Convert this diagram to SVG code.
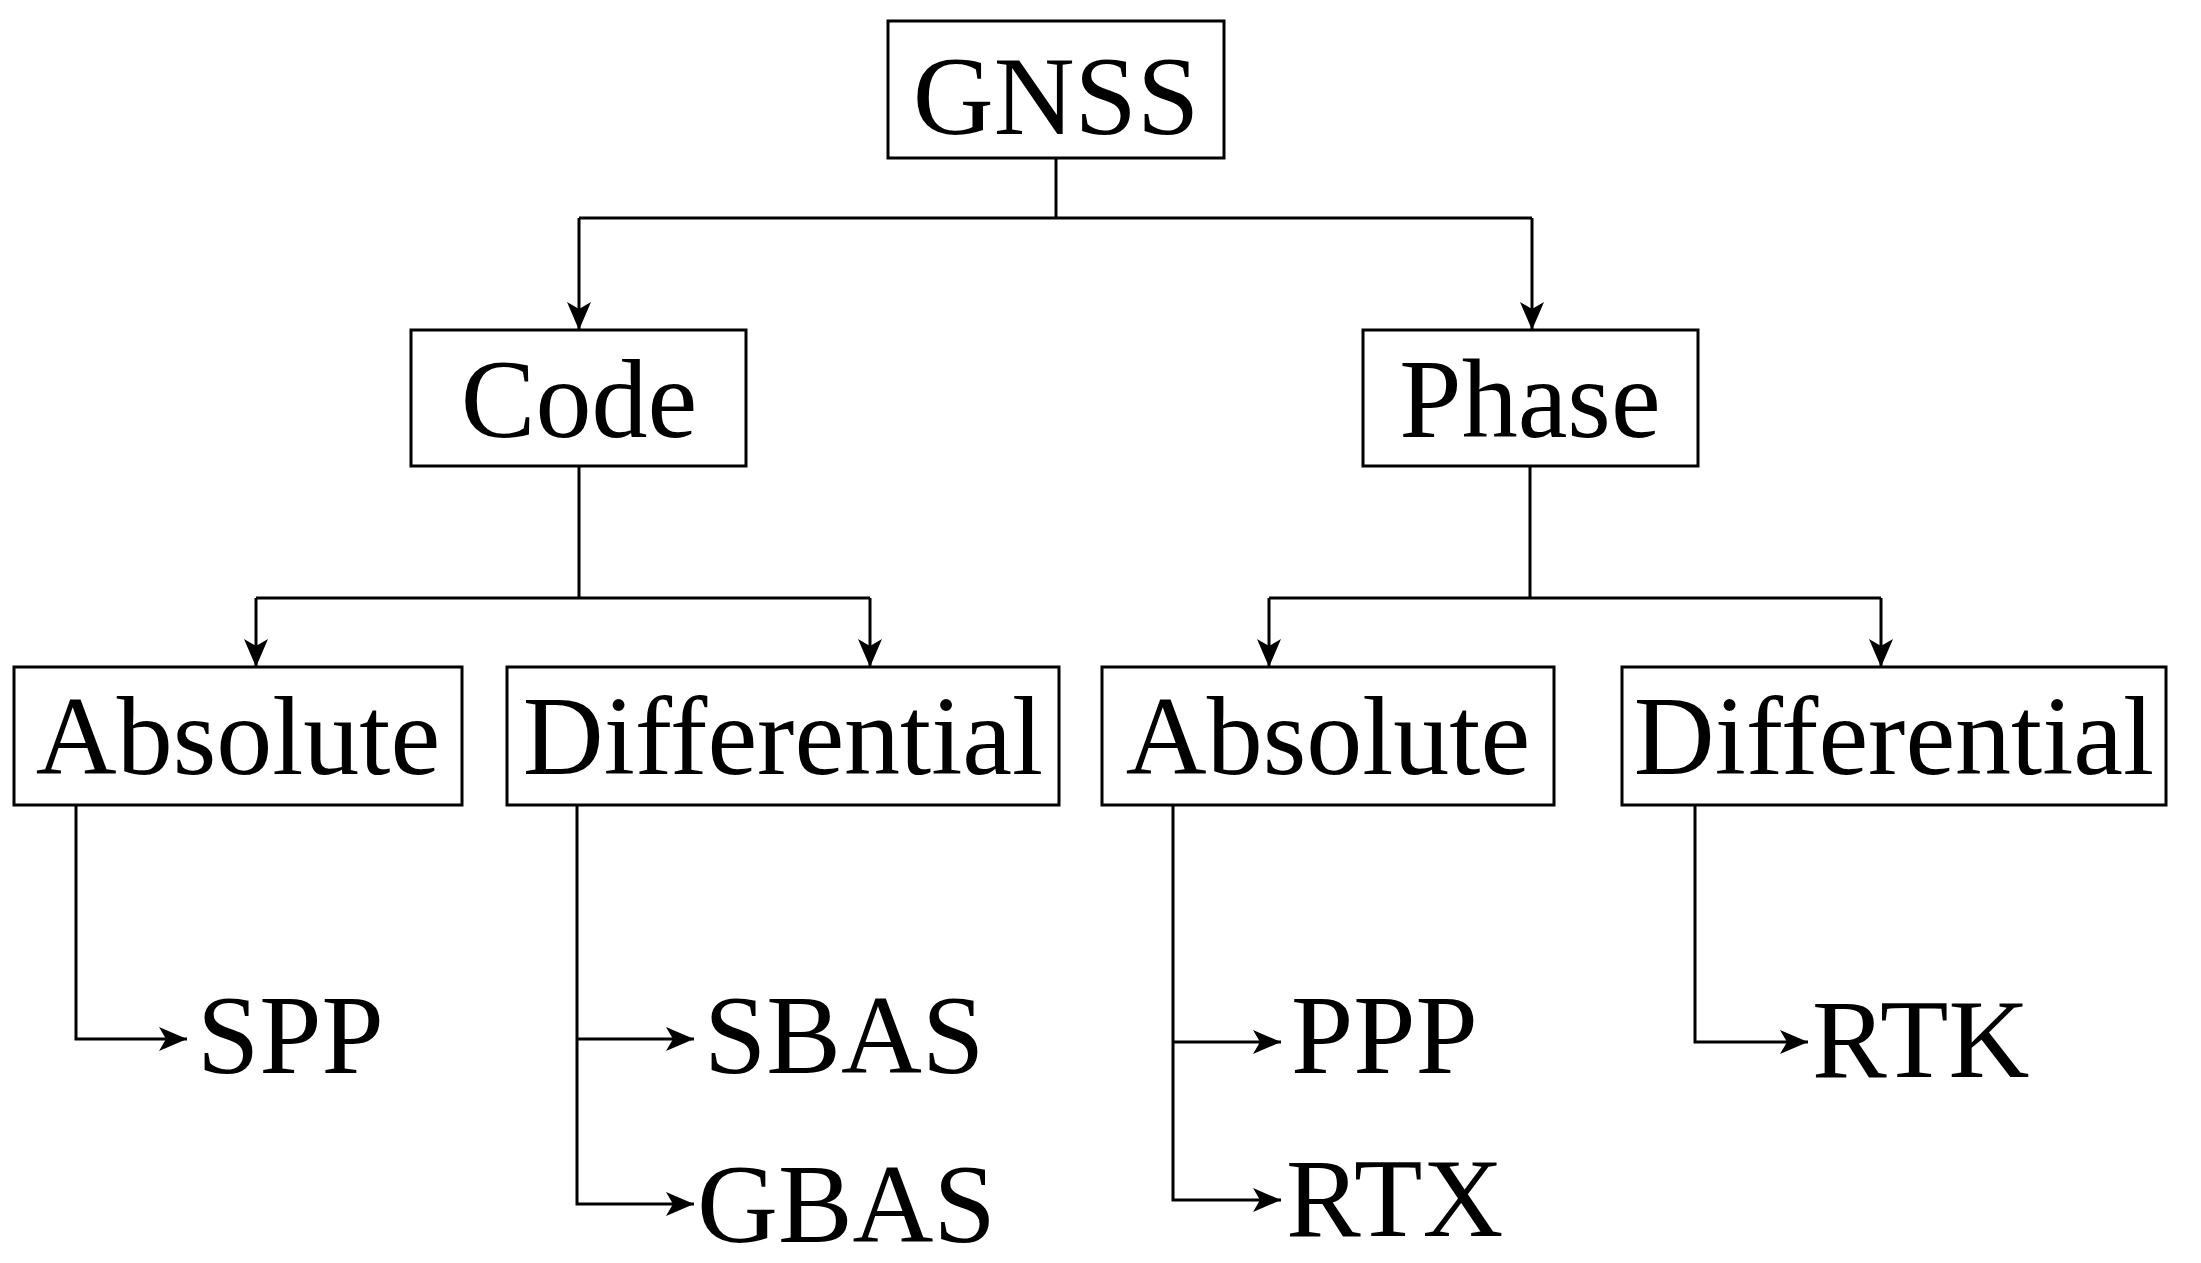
<svg xmlns="http://www.w3.org/2000/svg" width="2201" height="1263" viewBox="0 0 2201 1263">
<style>
.b{fill:#fff;stroke:#000;stroke-width:3}
.t{font-family:"Liberation Serif",serif;font-size:112px;fill:#000;text-anchor:middle}
.l{font-family:"Liberation Serif",serif;font-size:112px;fill:#000}
.c{fill:none;stroke:#000;stroke-width:3;marker-end:url(#a)}
.p{fill:none;stroke:#000;stroke-width:3}
</style>
<defs><marker id="a" markerUnits="userSpaceOnUse" markerWidth="30" markerHeight="24" refX="28" refY="12" orient="auto"><path d="M0,0 L28,12 L0,24 L7,12 Z" fill="#000"/></marker></defs>
<rect width="2201" height="1263" fill="#fff"/>
<g id="connectors">
<path class="p" d="M1056,158 V218 M579,218 H1532 M579,466 V598 M256,598 H870 M1530,466 V598 M1269,598 H1881"/>
<path class="c" d="M579,218 V330"/>
<path class="c" d="M1532,218 V330"/>
<path class="c" d="M256,598 V667"/>
<path class="c" d="M870,598 V667"/>
<path class="c" d="M1269,598 V667"/>
<path class="c" d="M1881,598 V667"/>
<path class="c" d="M76,805 V1039 H187"/>
<path class="c" d="M577,805 V1204 H694"/>
<path class="c" d="M577,1039 H694"/>
<path class="c" d="M1173,805 V1200 H1281"/>
<path class="c" d="M1173,1042 H1281"/>
<path class="c" d="M1695,805 V1042 H1808"/>
</g>
<g id="gnss"><rect class="b" x="888" y="21" width="336" height="137"/><text class="t" x="1056" y="134">GNSS</text></g>
<g id="code"><rect class="b" x="411" y="330" width="335" height="136"/><text class="t" x="579" y="437">Code</text></g>
<g id="phase"><rect class="b" x="1363" y="330" width="335" height="136"/><text class="t" x="1530" y="437">Phase</text></g>
<g id="abs1"><rect class="b" x="14" y="667" width="448" height="138"/><text class="t" x="238" y="774">Absolute</text></g>
<g id="diff1"><rect class="b" x="507" y="667" width="552" height="138"/><text class="t" x="783" y="774">Differential</text></g>
<g id="abs2"><rect class="b" x="1102" y="667" width="452" height="138"/><text class="t" x="1328" y="774">Absolute</text></g>
<g id="diff2"><rect class="b" x="1622" y="667" width="544" height="138"/><text class="t" x="1894" y="774">Differential</text></g>
<g id="spp"><text class="l" x="197" y="1073">SPP</text></g>
<g id="sbas"><text class="l" x="704" y="1073">SBAS</text></g>
<g id="gbas"><text class="l" x="697" y="1242">GBAS</text></g>
<g id="ppp"><text class="l" x="1291" y="1073">PPP</text></g>
<g id="rtx"><text class="l" x="1286" y="1236">RTX</text></g>
<g id="rtk"><text class="l" x="1812" y="1077">RTK</text></g>
</svg>
